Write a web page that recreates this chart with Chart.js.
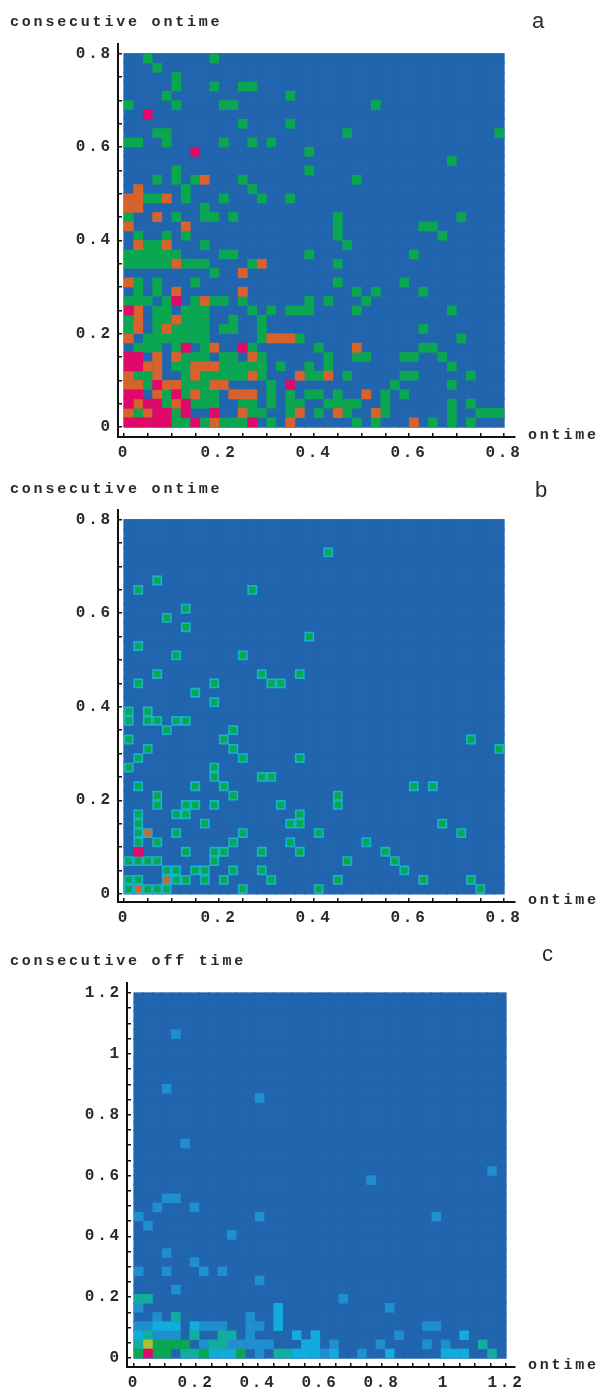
<!DOCTYPE html>
<html>
<head>
<meta charset="utf-8">
<title>consecutive ontime / off time</title>
<script src="https://cdn.jsdelivr.net/npm/chart.js@4"></script>
<style>
  html, body { margin: 0; padding: 0; background: #fff; }
  #wrap { position: relative; width: 600px; height: 1392px; overflow: hidden; }
  #wrap canvas { position: absolute; left: 0; }
</style>
</head>
<body>
<div id="wrap">
  <canvas id="chartA"></canvas>
  <canvas id="chartB"></canvas>
  <canvas id="chartC"></canvas>
</div>
<script>
// occupied bins, one list per row counted from the top of the panel, column numbers from the left
const aGreen = [[2,9],[3],[5],[5,9,12,13],[4,17],[0,5,10,11,26],[],[12,17],[3,4,23,39],[0,1,4,10,13,15],
  [19],[34],[5,19],[3,5,7,12,24],[6,13],[2,3,6,10,14,17],[8],[0,5,8,9,11,22,35],[22,31,32],[1,4,6,22,33],
  [2,3,8,23],[0,1,2,3,4,5,10,11,19,30],[0,1,2,3,4,6,7,8,13,22],[9],[1,3,7,22,29],[1,3,24,26,31],
  [0,1,2,4,7,9,10,12,19,21,25],[3,4,6,7,8,13,15,17,18,19,24,34],[0,3,4,6,7,8,11,14],[0,3,5,6,7,8,10,11,14,31],
  [2,3,4,5,6,7,8,14,18,35],[1,2,3,5,8,13,20,31,32],[6,7,8,10,11,14,21,24,25,29,30,33],[5,6,10,11,12,13,14,16,19,21,34],
  [1,2,6,8,9,10,11,12,14,19,20,23,29,30,36],[2,6,7,8,15,28,34],[4,6,8,9,15,17,19,20,22,27,29],
  [4,7,8,9,12,13,15,17,18,21,22,23,24,27,34,36],[1,5,13,14,17,20,23,27,34,37,38,39],[5,6,8,10,11,12,15,24,26,32,34,36]];
const aOrange = [[],[],[],[],[],[],[],[],[],[],[],[],[],[8],[1],[0,1,4],[0,1],[3],[0,6],[],
  [1,4],[],[5,14],[12],[0],[5,12],[8],[1],[1,5],[1,4],[0,15,16,17],[9,24],[3,5,13],[2,3,7,8,9],
  [0,3,7,13,18,21],[0,1,4,5,9,10],[3,7,11,12,13,25],[1,5],[0,2,12,18,22,26],[9,17,30]];
const aMagenta = [[],[],[],[],[],[],[2],[],[],[],[7],[],[],[],[],[],[],[],[],[],
  [],[],[],[],[],[],[5],[0],[],[],[],[6,12],[0,1],[0,1],[],[3,17],[0,1,5],[0,2,3,6],[3,4,6,9],[0,1,2,3,4,7,13]];

const bGreen = [[],[],[],[21],[],[],[3],[1,13],[],[6],[4],[6],[19],[1],[5,12],[],[3,14,18],[1,9,15,16],[7],[9],
  [0,2],[0,2,3,5,6],[4,11],[0,10,36],[2,11,39],[1,12,18],[0,9],[9,14,15],[1,7,10,30,32],[3,11,22],
  [3,6,7,9,16,22],[1,5,6,18],[1,8,17,18,33],[1,5,12,20,35],[1,3,11,17,25],[6,9,10,14,18,27],[0,1,2,3,9,23,28],
  [4,5,7,8,11,14,29],[0,1,5,6,8,10,15,22,31,36],[0,2,3,4,12,20,37]];
const bOrange = [[],[],[],[],[],[],[],[],[],[],[],[],[],[],[],[],[],[],[],[],
  [],[],[],[],[],[],[],[],[],[],[],[],[],[2],[],[],[],[],[4],[1]];
const bMagenta = [[],[],[],[],[],[],[],[],[],[],[],[],[],[],[],[],[],[],[],[],
  [],[],[],[],[],[],[],[],[],[],[],[],[],[],[],[1],[],[],[],[]];

const cLight = [[],[],[],[],[4],[],[],[],[],[],[3],[13],[],[],[],[],[5],[],[],[38],
  [25],[],[3,4],[2,6],[0,13,32],[1],[10],[],[3],[6],[0,3,7,9],[13],[4],[22],[0,27],[2,12],
  [0,1,7,8,9,12,13,31,32],[2,3,4,12,28],[7,10,11,12,13,14,18,21,26,31,33],[13,17,20,24]];
const cCyan = [[],[],[],[],[],[],[],[],[],[],[],[],[],[],[],[],[],[],[],[],
  [],[],[],[],[],[],[],[],[],[],[],[],[],[],[15],[15],[2,3,4,6,15],[0,6,17,19,35],[18,19],[8,9,10,17,18,19,21,27,33,34,35]];
const cTeal = [[],[],[],[],[],[],[],[],[],[],[],[],[],[],[],[],[],[],[],[],
  [],[],[],[],[],[],[],[],[],[],[],[],[],[0,1],[],[4],[],[1,6,9,10],[0,8,9,37],[5,6,15,16,38]];
const cGreen = [[],[],[],[],[],[],[],[],[],[],[],[],[],[],[],[],[],[],[],[],
  [],[],[],[],[],[],[],[],[],[],[],[],[],[],[],[],[],[],[2,3,4,5],[0,2,3,7,11]];
const cYellow = [[],[],[],[],[],[],[],[],[],[],[],[],[],[],[],[],[],[],[],[],
  [],[],[],[],[],[],[],[],[],[],[],[],[],[],[],[],[],[],[1],[]];
const cMagenta = [[],[],[],[],[],[],[],[],[],[],[],[],[],[],[],[],[],[],[],[],
  [],[],[],[],[],[],[],[],[],[],[],[],[],[],[],[],[],[],[],[1]];

const ticksA = [0, 0.2, 0.4, 0.6, 0.8];
const ticksC = [0, 0.2, 0.4, 0.6, 0.8, 1, 1.2];

const ROWS = 40;
const COLS = 40;
const BLUE = '#2165af';
const GREEN = '#0aa650';
const ORANGE = '#d8622c';
const MAGENTA = '#e00868';
const HALO = '#16b4cc';
const INK = '#2a2a2a';

function toPoints(rows, bin) {
  const pts = [];
  rows.forEach((cols, r) => cols.forEach(c => pts.push({ x: (c + 0.5) * bin, y: (ROWS - r - 0.5) * bin })));
  return pts;
}

function allRows() {
  const rows = [];
  for (let r = 0; r < ROWS; r++) rows.push([...Array(COLS).keys()]);
  return rows;
}

// square side follows the scale, a bit oversized so no seams show
function cellRadius(ctx, stroke, extra) {
  const { x, y } = ctx.chart.scales;
  const bin = ctx.chart.options.bin;
  const w = Math.abs(x.getPixelForValue(bin) - x.getPixelForValue(0));
  const h = Math.abs(y.getPixelForValue(bin) - y.getPixelForValue(0));
  return (Math.max(w, h) + extra - stroke) * Math.SQRT1_2;
}

// lower order is painted on top, so later layers get a smaller number
function layer(name, rows, bin, color, order, halo) {
  const stroke = halo ? 1.6 : 0;
  const extra = order === 99 ? 1.2 : 0.3;
  return {
    label: name,
    data: toPoints(rows, bin),
    order,
    pointStyle: 'rect',
    pointRadius: ctx => cellRadius(ctx, stroke, extra),
    backgroundColor: color,
    borderColor: halo || color,
    borderWidth: stroke
  };
}

const letterSpaced = {
  id: 'letterSpaced',
  beforeDraw(chart) {
    chart.ctx.letterSpacing = '2.8px';
  },
  afterDraw(chart) {
    const { ctx, scales, options } = chart;
    ctx.save();
    ctx.fillStyle = INK;
    ctx.textBaseline = 'middle';
    ctx.textAlign = 'left';
    ctx.font = 'bold 15px "Liberation Mono"';
    ctx.fillText('ontime', 528, scales.x.top - 2);
    ctx.letterSpacing = '0px';
    ctx.font = '22px "Liberation Sans"';
    ctx.fillText(options.panelLetter.text, options.panelLetter.x, options.panelLetter.y);
    ctx.restore();
  }
};

function axis(min, max, labels, fit, pad) {
  return {
    type: 'linear',
    min, max,
    afterFit(s) {
      if (s.isHorizontal()) s.height = fit; else s.width = fit;
    },
    afterBuildTicks(s) {
      const list = [];
      for (let i = 0; i * 0.05 <= max; i++) list.push({ value: Math.round(i * 5) / 100 });
      s.ticks = list;
    },
    border: { display: true, color: '#111', width: 2 },
    grid: { drawOnChartArea: false, drawTicks: true, tickLength: -4, color: '#111', lineWidth: 1.5 },
    ticks: {
      autoSkip: false,
      maxRotation: 0,
      padding: pad,
      color: INK,
      font: { family: '"Liberation Mono"', size: 16, weight: 'bold' },
      callback: v => (labels.includes(v) ? String(v) : '')
    }
  };
}

function makeChart(id, cfg) {
  const el = document.getElementById(id);
  el.style.top = cfg.top + 'px';
  el.width = 600;
  el.height = cfg.height;
  return new Chart(el, {
    type: 'scatter',
    plugins: [letterSpaced],
    data: { datasets: [layer('empty', allRows(), cfg.bin, BLUE, 99)].concat(cfg.layers) },
    options: {
      responsive: false,
      animation: false,
      bin: cfg.bin,
      panelLetter: cfg.letter,
      layout: { padding: { left: 10, right: 85, top: 0, bottom: 0 } },
      plugins: {
        legend: { display: false },
        tooltip: { enabled: false },
        title: {
          display: true,
          text: cfg.title,
          align: 'start',
          color: INK,
          font: { family: '"Liberation Mono"', size: 15, weight: 'bold' },
          padding: { top: cfg.titleTop, bottom: cfg.titleBottom }
        }
      },
      scales: {
        x: axis(cfg.xMin, cfg.xMax, cfg.xTicks, cfg.axisBottom, 10.5),
        y: axis(cfg.yMin, cfg.yMax, cfg.yTicks, cfg.axisLeft - 10, 9)
      }
    }
  });
}

makeChart('chartA', {
  top: 0, height: 470, bin: 0.02, title: 'consecutive ontime', titleTop: 13, titleBottom: 13,
  axisLeft: 118, axisBottom: 33,
  xMin: -0.0126, xMax: 0.823, yMin: -0.0214, yMax: 0.821, xTicks: ticksA, yTicks: ticksA,
  letter: { text: 'a', x: 532, y: 22 },
  layers: [
    layer('low', aGreen, 0.02, GREEN, 3),
    layer('mid', aOrange, 0.02, ORANGE, 2),
    layer('high', aMagenta, 0.02, MAGENTA, 1)
  ]
});
makeChart('chartB', {
  top: 470, height: 465, bin: 0.02, title: 'consecutive ontime', titleTop: 10, titleBottom: 12,
  axisLeft: 118, axisBottom: 33,
  xMin: -0.0126, xMax: 0.823, yMin: -0.0175, yMax: 0.8208, xTicks: ticksA, yTicks: ticksA,
  letter: { text: 'b', x: 535, y: 21 },
  layers: [
    layer('low', bGreen, 0.02, GREEN, 3, HALO),
    layer('mid', bOrange, 0.02, ORANGE, 2, HALO),
    layer('high', bMagenta, 0.02, MAGENTA, 1)
  ]
});
makeChart('chartC', {
  top: 935, height: 457, bin: 0.03, title: 'consecutive off time', titleTop: 17, titleBottom: 13,
  axisLeft: 127, axisBottom: 25,
  xMin: -0.0226, xMax: 1.229, yMin: -0.0295, yMax: 1.233, xTicks: ticksC, yTicks: ticksC,
  letter: { text: 'c', x: 542, y: 20 },
  layers: [
    layer('l1', cLight, 0.03, '#1f8fcf', 6),
    layer('l2', cCyan, 0.03, '#12acdc', 5),
    layer('l3', cTeal, 0.03, '#12ad9e', 4),
    layer('l4', cGreen, 0.03, GREEN, 3),
    layer('l5', cYellow, 0.03, '#a9c232', 2),
    layer('l6', cMagenta, 0.03, MAGENTA, 1)
  ]
});
</script>
</body>
</html>
